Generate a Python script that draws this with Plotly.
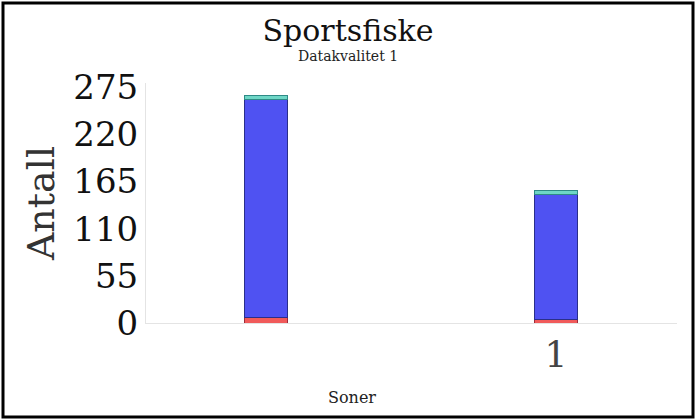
import plotly.graph_objects as go

# Soner (x positions) and stacked counts per segment
soner = [0, 1]
sone_ticks = [1]
sone_labels = ["1"]

rod = [6, 4]
bla = [254.5, 146]
turkis = [4.7, 4.7]

y_ticks = [0, 55, 110, 165, 220, 275]

W, H = 696, 420
L, R, T, B = 146, 19, 83, 97

serif = "DejaVu Serif"

fig = go.Figure()
for vals, fill, edge, name in [
    (rod, "#f05a5a", "#9a2b3a", "Rød"),
    (bla, "#4f52f2", "#2a2f8a", "Blå"),
    (turkis, "#6ed6c6", "#2e8a86", "Turkis"),
]:
    fig.add_trace(go.Bar(
        x=soner,
        y=vals,
        name=name,
        width=0.148,
        marker=dict(color=fill, line=dict(color=edge, width=1)),
    ))

pw = W - L - R
ph = H - T - B


def px_x(p):
    return (p - L) / pw


def px_y(p):
    return (H - B - p) / ph


fig.update_layout(
    width=W,
    height=H,
    barmode="stack",
    showlegend=False,
    plot_bgcolor="white",
    paper_bgcolor="white",
    margin=dict(l=L, r=R, t=T, b=B),
    font=dict(family=serif, color="#222"),
    title=dict(
        text="Sportsfiske",
        x=0.5,
        xanchor="center",
        y=1 - 30 / H,
        yanchor="middle",
        font=dict(size=30, color="#111"),
    ),
    xaxis=dict(
        range=[-0.414, 1.417],
        tickvals=sone_ticks,
        ticktext=sone_labels,
        tickfont=dict(size=36, color="#444"),
        showgrid=False,
        zeroline=False,
        showline=True,
        linecolor="#e4e4e4",
        linewidth=1,
        ticks="",
    ),
    yaxis=dict(
        range=[0, 280],
        tickvals=y_ticks,
        tickfont=dict(size=34, color="#111"),
        title=dict(text="Antall", font=dict(size=38, color="#333"), standoff=6),
        showgrid=False,
        zeroline=False,
        showline=True,
        linecolor="#e4e4e4",
        linewidth=1,
        ticks="",
    ),
    annotations=[
        dict(
            text="Datakvalitet 1",
            xref="paper", yref="paper",
            x=px_x(W / 2), y=px_y(56),
            xanchor="center", yanchor="middle",
            showarrow=False,
            font=dict(size=14, color="#222"),
        ),
        dict(
            text="Soner",
            xref="paper", yref="paper",
            x=px_x(352), y=px_y(397),
            xanchor="center", yanchor="middle",
            showarrow=False,
            font=dict(size=16, color="#222"),
        ),
    ],
    shapes=[dict(
        type="rect",
        xref="paper", yref="paper",
        x0=px_x(3), x1=px_x(W - 3),
        y0=px_y(H - 3), y1=px_y(3),
        line=dict(color="black", width=3),
        fillcolor="rgba(0,0,0,0)",
        layer="above",
    )],
)

fig.write_html("out.html", config={"displayModeBar": False},
               post_script="document.body.style.margin='0';")
